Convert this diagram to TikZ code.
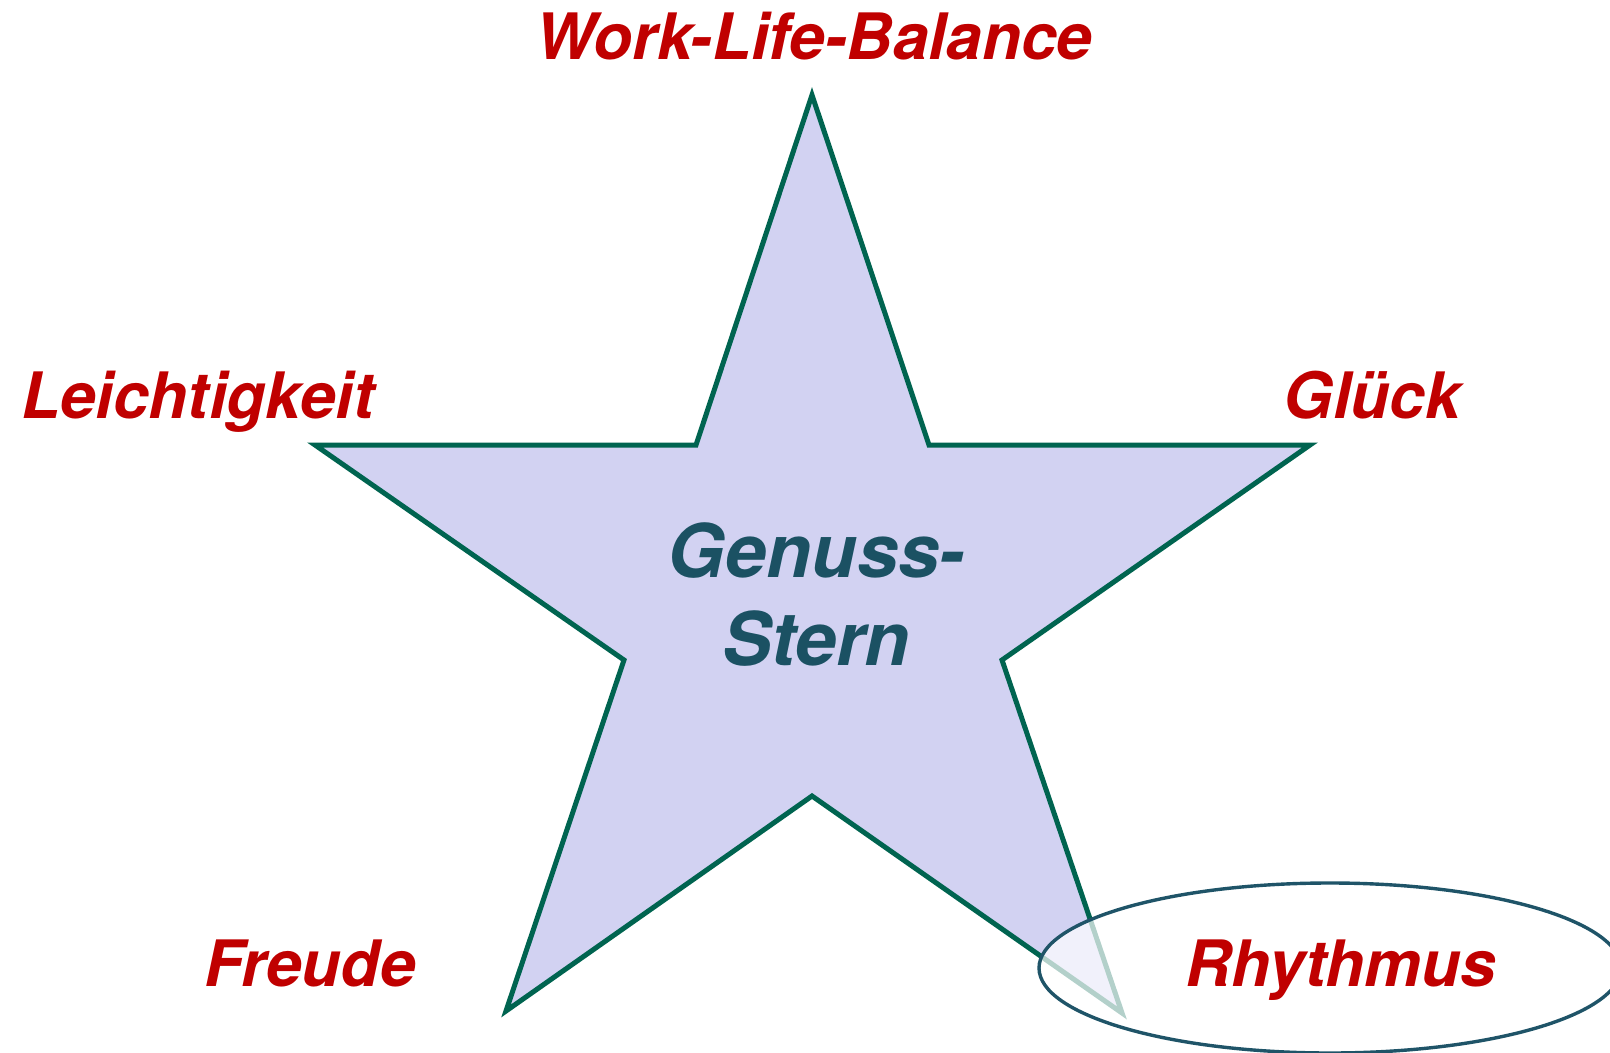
\documentclass[tikz,border=0pt]{standalone}
\usepackage{fontspec}
\setmainfont{TeX Gyre Heros}
\definecolor{lblred}{HTML}{C00000}
\definecolor{startext}{HTML}{1B5163}
\definecolor{starline}{HTML}{006450}
\definecolor{starfill}{HTML}{D2D2F2}
\definecolor{ellline}{HTML}{1F5468}
\tikzset{
  lbl/.style={font=\fontsize{32}{36}\selectfont\bfseries\itshape, text=lblred, inner sep=0pt, anchor=base},
  ctr/.style={font=\fontsize{37}{44}\selectfont\bfseries\itshape, text=startext, inner sep=0pt, anchor=base},
}
\begin{document}
\begin{tikzpicture}[x=0.5pt,y=-0.5pt]
\useasboundingbox (0,0) rectangle (1610,1053);
% star
\coordinate (s1) at (812,95);
\coordinate (s2) at (929,445);
\coordinate (s3) at (1310,445);
\coordinate (s4) at (1002,660);
\coordinate (s5) at (1122,1013);
\coordinate (s6) at (812,796);
\coordinate (s7) at (506,1011);
\coordinate (s8) at (624,660);
\coordinate (s9) at (315,445);
\coordinate (s10) at (696,445);
\draw[starline, fill=starfill, line width=2.5pt, line join=miter]
  (s1) -- (s2) -- (s3) -- (s4) -- (s5) -- (s6) -- (s7) -- (s8) -- (s9) -- (s10) -- cycle;
% ellipse
\fill[white, fill opacity=0.7] (1330,968) ellipse [x radius=291, y radius=85];
\draw[ellline, line width=1.7pt] (1330,968) ellipse [x radius=291, y radius=85];
% labels
\node[lbl] (wlb) at (814,60) {Work-Life-Balance};
\node[lbl] (leicht) at (198,418) {Leichtigkeit};
\node[lbl] (glueck) at (1372,418) {Glück};
\node[lbl] (freude) at (310,986) {Freude};
\node[lbl] (rhythm) at (1341,986) {Rhythmus};
\node[ctr] (genuss) at (816,577) {Genuss-};
\node[ctr] (stern) at (816,665) {Stern};
\end{tikzpicture}
\end{document}
